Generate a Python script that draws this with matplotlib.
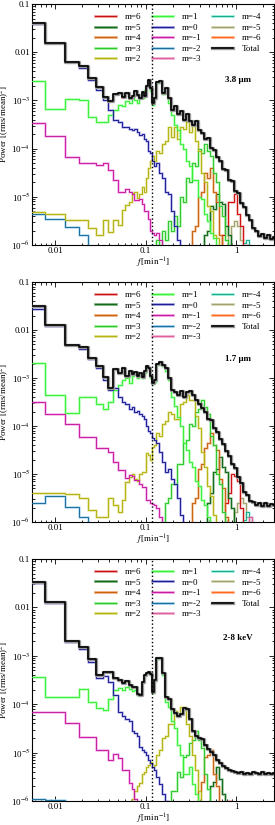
import numpy as np
import matplotlib
matplotlib.use("Agg")
import matplotlib.pyplot as plt
from matplotlib.lines import Line2D
from matplotlib.ticker import FixedLocator, FuncFormatter, LogLocator, NullFormatter

plt.rcParams["font.family"] = ["Liberation Serif", "DejaVu Serif"]
plt.rcParams["mathtext.fontset"] = "stix"

# ── frequency grid: linear Fourier bins at low f, coarser log bins above ─────
DF = 0.0052                                   # min^-1
F_LOW = DF * np.arange(1, 24)                 # 23 bins up to ~0.12
F_HIGH = np.geomspace(0.126, 2.63, 41)        # 41 bins up to 2.6
FREQ = np.concatenate([F_LOW, F_HIGH])
F_MARK = 0.118                                # dotted vertical line

LABELS = ["m=6", "m=5", "m=4", "m=3", "m=2", "m=1", "m=0",
          "m=-1", "m=-2", "m=-3", "m=-4", "m=-5", "m=-6"]
LINE_COLORS = ["#cc1010", "#0f6a1a", "#c86414", "#2ec82e", "#b4b414", "#3cf03c", "#1e1e96",
               "#c81ea0", "#1e6e9a", "#e0609e", "#1eaa8c", "#a0a070", "#ff6a20"]
HALO_COLORS = ["#f0a0a0", "#80b080", "#f0b080", "#a0f0a0", "#e0e090", "#a0ffa0", "#a0a0e0",
               "#f0a0e0", "#a0d0f0", "#f0b0d0", "#a0f0e0", "#d8d8b8", "#ffb890"]
PANEL_NAMES = ["3.8 \u03bcm", "1.7 \u03bcm", "2-8 keV"]

# ── log10 power (23 low bins + 41 high bins) ────────────────────────────────
# Panel 1: 3.8 micron
P1_TOTAL = [-1.39, -1.80, -2.20, -2.29, -2.54, -2.72, -2.93, -3.02, -2.87, -2.85, -2.92, -2.85,
            -2.95, -2.90, -2.80, -2.88, -2.95, -2.82, -2.90, -2.70, -2.58, -2.75, -3.05] + \
           [-2.95, -2.62, -2.60, -2.85, -2.75, -2.95, -3.20, -3.12, -3.28, -3.22, -3.40, -3.28,
            -3.42, -3.50, -3.42, -3.62, -3.68, -3.80, -3.78, -3.98, -4.02, -4.18, -4.25, -4.42,
            -4.45, -4.65, -4.68, -4.88, -4.92, -5.12, -5.22, -5.38, -5.48, -5.65, -5.70, -5.82,
            -5.78, -5.86, -5.80, -5.88, -5.83]
P1_M6 = [-7] * 23 + [-7] * 22 + [-6.3, -5.8, -5.6, -5.1, -5.1, -4.95, -5.35, -5.6, -6.2] + [-7] * 10
P1_M5 = [-7] * 23 + [-7] * 16 + [-6.3, -5.8, -5.7, -5.2, -5.25, -4.95, -5.1, -5.15, -5.6, -5.8,
                                 -6.3] + [-7] * 14
P1_M4 = [-7] * 23 + [-7] * 12 + [-6.2, -5.7, -5.6, -5.0, -4.9, -4.5, -4.6, -4.4, -4.9, -5.1,
                                 -5.8, -6.1] + [-7] * 17
P1_M3 = [-7] * 23 + [-6.5, -5.9, -6.0, -5.7, -5.9, -5.5, -5.7, -5.4, -5.6, -5.0, -5.1, -4.6,
                     -4.7, -4.3, -4.35, -4.0, -4.1, -3.9, -4.05, -4.15, -4.5, -4.7, -5.2, -5.4,
                     -5.9, -6.2] + [-7] * 15
P1_M2 = [-5.31, -5.36, -5.48, -5.48, -5.65, -5.80, -5.48, -5.73, -5.48, -5.59, -5.27, -5.17,
         -5.10, -4.93, -4.89, -5.02, -4.95, -4.80, -4.90, -4.60, -4.40, -4.25, -4.15] + \
        [-4.25, -4.05, -4.10, -3.90, -3.85, -3.55, -3.75, -3.55, -3.80, -3.55, -3.60, -3.45,
         -3.65, -3.50, -3.85, -4.05, -4.50, -4.70, -5.20, -5.30, -5.80, -5.85, -6.30] + [-7] * 18
P1_M1 = [-2.60, -3.18, -2.97, -3.00, -3.35, -3.45, -3.45, -3.30, -3.20, -3.10, -3.12, -3.02,
         -3.05, -2.95, -3.00, -3.05, -2.88, -2.95, -2.78, -2.68, -2.60, -2.80, -3.10] + \
        [-2.98, -2.63, -2.60, -2.87, -2.78, -3.05, -3.30, -3.50, -3.62, -3.90, -4.00, -4.25,
         -4.35, -4.65, -4.65, -5.00, -5.05, -5.35, -5.50, -5.75, -5.85, -6.30] + [-7] * 19
P1_M0 = [-1.41, -1.81, -2.21, -2.32, -2.58, -2.78, -3.00, -3.20, -3.40, -3.45, -3.55, -3.55,
         -3.60, -3.62, -3.60, -3.65, -3.72, -3.70, -3.80, -3.85, -4.05, -4.10, -4.25] + \
        [-4.35, -4.30, -4.50, -4.60, -4.90, -4.95, -5.30, -5.60, -5.90, -6.50] + [-7] * 31
P1_MM1 = [-3.46, -3.74, -4.17, -4.29, -4.29, -4.34, -4.29, -4.44, -4.65, -4.89, -4.89, -4.84,
          -4.89, -4.95, -5.07, -5.07, -5.05, -5.15, -5.30, -5.30, -5.45, -5.70, -5.75] + \
         [-5.80, -5.75, -5.90, -6.30] + [-7] * 37
P1_MM2 = [-5.36, -5.45, -5.62, -5.80, -6.50] + [-7] * 18 + [-7] * 41
P1_MM3 = [-7] * 23 + [-7] * 30 + [-6.3, -6.0, -6.2] + [-7] * 8
P1_MM4 = [-7] * 23 + [-7] * 29 + [-6.2, -5.95, -5.9, -6.1, -6.5] + [-7] * 7
P1_MM5 = [-7] * 23 + [-7] * 24 + [-6.2, -5.8, -5.6, -5.5, -5.6, -5.9, -6.3] + [-7] * 10
P1_MM6 = [-7] * 64

# Panel 2: 1.7 micron
P2_TOTAL = [-1.51, -1.90, -2.31, -2.36, -2.58, -2.76, -2.98, -3.20, -2.82, -2.90, -2.80, -2.95,
            -2.85, -2.92, -2.88, -2.95, -2.90, -2.98, -2.85, -2.75, -2.80, -2.95, -3.10] + \
           [-3.05, -2.70, -2.67, -2.72, -2.80, -3.00, -3.25, -3.30, -3.35, -3.28, -3.40, -3.30,
            -3.28, -3.35, -3.45, -3.55, -3.62, -3.70, -3.85, -3.88, -4.05, -4.12, -4.27, -4.38,
            -4.52, -4.63, -4.80, -4.88, -5.07, -5.18, -5.37, -5.43, -5.57, -5.58, -5.64, -5.60,
            -5.66, -5.61, -5.66, -5.62, -5.64]
P2_M6 = [-7] * 23 + [-7] * 23 + [-6.2, -5.6, -5.4, -5.0, -5.05, -5.15, -5.7, -6.1] + [-7] * 10
P2_M5 = [-7] * 23 + [-7] * 17 + [-6.2, -5.6, -5.4, -4.95, -4.9, -4.65, -4.85, -4.95, -5.5, -5.7,
                                 -6.2] + [-7] * 13
P2_M4 = [-7] * 23 + [-7] * 12 + [-6.2, -5.6, -5.5, -4.9, -4.8, -4.45, -4.35, -4.15, -4.4, -4.5,
                                 -5.1, -5.3, -5.9] + [-7] * 16
P2_M3 = [-7] * 23 + [-7] * 3 + [-6.2, -5.6, -5.5, -5.2, -5.2, -4.8, -4.8, -4.35, -4.3, -3.95,
                                -4.0, -3.70, -3.65, -3.45, -3.60, -3.75, -4.20, -4.40, -5.00,
                                -5.20, -5.80, -6.00] + [-7] * 16
P2_M2 = [-5.40, -5.40, -5.42, -5.50, -5.75, -5.90, -5.90, -5.50, -5.65, -5.80, -5.54, -5.17,
         -5.06, -5.00, -5.10, -5.15, -5.00, -4.96, -4.96, -4.57, -4.60, -4.70, -4.44] + \
        [-4.40, -4.15, -4.20, -3.95, -3.90, -3.70, -3.75, -3.85, -3.85, -3.55, -3.50, -3.35,
         -3.45, -3.45, -3.80, -4.05, -4.55, -4.85, -5.25, -5.45, -5.85, -6.20] + [-7] * 19
P2_M1 = [-2.69, -3.35, -3.73, -3.40, -3.40, -3.55, -3.65, -3.50, -3.25, -3.15, -3.05, -3.00,
         -3.10, -2.95, -2.90, -3.00, -2.95, -3.00, -2.90, -2.78, -2.82, -3.00, -3.12] + \
        [-3.08, -2.72, -2.68, -2.74, -2.85, -3.05, -3.40, -3.58, -3.82, -4.00, -4.35, -4.50,
         -4.75, -4.85, -5.15, -5.25, -5.55, -5.65, -5.90, -6.30] + [-7] * 21
P2_M0 = [-1.56, -1.91, -2.32, -2.40, -2.60, -2.80, -3.05, -3.25, -3.20, -3.40, -3.50, -3.55,
         -3.65, -3.60, -3.70, -3.68, -3.75, -3.80, -3.85, -4.00, -4.10, -4.15, -4.25] + \
        [-4.30, -4.35, -4.55, -4.75, -4.95, -4.90, -5.10, -5.20, -5.50, -5.85, -6.30] + [-7] * 30
P2_MM1 = [-3.50, -3.75, -3.96, -4.23, -4.23, -4.46, -4.46, -4.55, -4.75, -4.92, -4.92, -5.08,
          -5.02, -5.04, -5.13, -5.13, -5.20, -5.27, -5.27, -5.54, -5.54, -5.60, -5.62] + \
         [-5.65, -5.70, -5.90, -6.40] + [-7] * 37
P2_MM2 = [-5.60, -5.45, -5.69, -5.90, -6.50] + [-7] * 18 + [-7] * 41
P2_MM3 = [-7] * 23 + [-7] * 31 + [-6.2, -5.9, -6.1] + [-7] * 7
P2_MM4 = [-7] * 23 + [-7] * 29 + [-6.2, -5.95, -5.8, -5.9, -6.2] + [-7] * 7
P2_MM5 = [-7] * 23 + [-7] * 26 + [-6.2, -5.8, -5.6, -5.5, -5.6, -5.9, -6.3] + [-7] * 8
P2_MM6 = [-7] * 64

# Panel 3: 2-8 keV
P3_TOTAL = [-1.48, -1.89, -2.69, -2.82, -3.07, -3.40, -3.33, -3.33, -3.45, -3.50, -3.56, -3.52,
            -3.60, -3.65, -3.65, -3.78, -3.80, -3.55, -3.40, -3.35, -3.34, -3.38, -3.74] + \
           [-3.50, -3.05, -3.04, -3.35, -3.85, -3.90, -4.10, -4.18, -4.25, -4.20, -4.08, -4.10,
            -4.30, -4.55, -4.65, -4.70, -4.72, -4.85, -4.92, -4.98, -5.05, -5.15, -5.22, -5.28,
            -5.32, -5.35, -5.38, -5.40, -5.42, -5.40, -5.44, -5.42, -5.45, -5.40, -5.43, -5.45,
            -5.40, -5.44, -5.42, -5.45, -5.43]
P3_M6 = [-7] * 23 + [-7] * 24 + [-6.3, -6.0, -6.2] + [-7] * 14
P3_M5 = [-7] * 23 + [-7] * 18 + [-6.2, -5.7, -5.6, -5.3, -5.55, -5.85, -6.3] + [-7] * 16
P3_M4 = [-7] * 23 + [-7] * 14 + [-6.3, -5.8, -5.6, -5.1, -5.05, -4.95, -5.45, -5.7, -6.3] + [-7] * 18
P3_M3 = [-7] * 23 + [-7] * 5 + [-6.3, -5.8, -5.8, -5.4, -5.5, -5.1, -5.05, -4.80, -4.75, -4.55,
                                -4.75, -4.90, -5.45, -5.75, -6.30] + [-7] * 21
P3_M2 = [-6.5] * 13 + [-5.95, -5.80, -5.70, -5.63, -5.45, -5.40, -5.30, -5.25, -5.20, -5.30] + \
        [-5.25, -5.05, -4.95, -4.70, -4.65, -4.40, -4.40, -4.15, -4.20, -4.05, -4.06, -4.40,
         -4.65, -5.05, -5.35, -5.80, -6.20] + [-7] * 24
P3_M1 = [-3.43, -3.85, -3.85, -3.69, -3.95, -4.08, -4.12, -3.90, -3.70, -3.67, -3.70, -3.65,
         -3.68, -3.72, -3.70, -3.80, -3.78, -3.55, -3.40, -3.35, -3.36, -3.40, -3.76] + \
        [-3.52, -3.06, -3.05, -3.40, -3.95, -4.05, -4.35, -4.50, -4.85, -5.05, -5.45, -5.45,
         -5.30, -5.65, -5.85, -6.30] + [-7] * 25
P3_M0 = [-1.49, -1.90, -2.71, -2.86, -3.12, -3.45, -3.42, -3.55, -3.80, -4.16, -4.25, -4.30,
         -4.35, -4.55, -4.60, -4.65, -4.88, -4.95, -4.99, -5.05, -5.15, -5.21, -5.30] + \
        [-5.35, -5.50, -5.65, -5.85, -6.00, -6.40] + [-7] * 35
P3_MM1 = [-4.16, -4.16, -4.39, -4.67, -4.67, -4.95, -4.95, -5.15, -5.02, -5.12, -5.36, -5.36,
          -5.63, -5.75, -5.95, -6.30] + [-7] * 7 + [-7] * 41
P3_MM2 = [-5.95, -5.97, -6.30] + [-7] * 20 + [-7] * 41
P3_MM3 = [-7] * 64
P3_MM4 = [-7] * 64
P3_MM5 = [-7] * 64
P3_MM6 = [-7] * 64

PANELS = [
    ([P1_M6, P1_M5, P1_M4, P1_M3, P1_M2, P1_M1, P1_M0,
      P1_MM1, P1_MM2, P1_MM3, P1_MM4, P1_MM5, P1_MM6], P1_TOTAL),
    ([P2_M6, P2_M5, P2_M4, P2_M3, P2_M2, P2_M1, P2_M0,
      P2_MM1, P2_MM2, P2_MM3, P2_MM4, P2_MM5, P2_MM6], P2_TOTAL),
    ([P3_M6, P3_M5, P3_M4, P3_M3, P3_M2, P3_M1, P3_M0,
      P3_MM1, P3_MM2, P3_MM3, P3_MM4, P3_MM5, P3_MM6], P3_TOTAL),
]
for comps, tot in PANELS:
    assert len(tot) == len(FREQ)
    for c in comps:
        assert len(c) == len(FREQ), len(c)

# draw order (index into LABELS), low-order modes last so they sit on top
DRAW_ORDER = [12, 11, 10, 9, 8, 0, 1, 2, 3, 4, 7, 5, 6]

AX_RECTS = [[0.1164, 0.7030, 0.880, 0.2921],
            [0.1164, 0.3673, 0.880, 0.2909],
            [0.1164, 0.0291, 0.880, 0.2933]]
LABEL_Y = [0.685, 0.68, 0.673]


def ylab(v, pos):
    if v >= 0.1:
        return "0.1"
    if abs(v - 0.01) < 1e-6:
        return "0.01"
    return r"10$^{%d}$" % int(round(np.log10(v)))


def xlab(v, pos):
    return {0.01: "0.01", 0.1: "0.1", 1.0: "1"}.get(round(v, 3), "")


fig = plt.figure(figsize=(2.75, 8.25), dpi=100, facecolor="white")

for p, ((comps, tot), rect) in enumerate(zip(PANELS, AX_RECTS)):
    ax = fig.add_axes(rect)
    ax.set_xscale("log"); ax.set_yscale("log")

    for i in DRAW_ORDER:
        vals = 10.0 ** np.asarray(comps[i])
        ax.step(FREQ, vals, where="mid", color=HALO_COLORS[i], lw=2.0, alpha=0.7, zorder=2)
        ax.step(FREQ, vals, where="mid", color=LINE_COLORS[i], lw=0.7, zorder=3)
    tv = 10.0 ** np.asarray(tot)
    ax.step(FREQ, tv, where="mid", color="#9a9a9a", lw=2.4, zorder=4)
    ax.step(FREQ, tv, where="mid", color="black", lw=1.2, zorder=5)

    ax.axvline(F_MARK, color="black", ls=":", lw=1.0, zorder=6)

    ax.set_xlim(0.00557, 2.63)
    ax.set_ylim(1e-6, 0.1)

    ax.xaxis.set_major_locator(FixedLocator([0.01, 0.1, 1.0]))
    ax.xaxis.set_major_formatter(FuncFormatter(xlab))
    ax.xaxis.set_minor_locator(LogLocator(base=10, subs=np.arange(2, 10)))
    ax.xaxis.set_minor_formatter(NullFormatter())
    ax.yaxis.set_major_locator(FixedLocator([1e-6, 1e-5, 1e-4, 1e-3, 1e-2, 1e-1]))
    ax.yaxis.set_major_formatter(FuncFormatter(ylab))
    ax.yaxis.set_minor_locator(LogLocator(base=10, subs=np.arange(2, 10)))
    ax.yaxis.set_minor_formatter(NullFormatter())
    ax.tick_params(which="both", direction="in", top=True, right=True,
                   labelsize=6.5, width=0.6, pad=1.5)
    ax.tick_params(which="major", length=3.5)
    ax.tick_params(which="minor", length=1.8)
    for sp in ax.spines.values():
        sp.set_linewidth(0.8)

    ax.set_xlabel(r"$f\,$[min$^{-1}$]", fontsize=6.5, va="center")
    ax.xaxis.set_label_coords(0.5, -0.076)
    ax.set_ylabel(r"Power [(rms/mean)$^2$]", fontsize=6.5)
    ax.yaxis.set_label_coords(-0.085, 0.5)

    ax.text(0.85, LABEL_Y[p], PANEL_NAMES[p], transform=ax.transAxes,
            ha="center", va="center", fontsize=6.5, fontweight="bold")

    handles = []
    for i in range(len(LABELS)):
        handles.append((Line2D([], [], color=HALO_COLORS[i], lw=2.0),
                        Line2D([], [], color=LINE_COLORS[i], lw=0.8)))
    handles.append((Line2D([], [], color="#9a9a9a", lw=2.4),
                    Line2D([], [], color="black", lw=1.2)))
    ax.legend(handles, LABELS + ["Total"], ncol=3, loc="upper right",
              bbox_to_anchor=(0.975, 0.99), frameon=False, fontsize=6.5,
              handlelength=2.3, handletextpad=1.0, columnspacing=1.2,
              labelspacing=0.25, borderaxespad=0.3)

fig.savefig("out.png", dpi=100, facecolor="white")
